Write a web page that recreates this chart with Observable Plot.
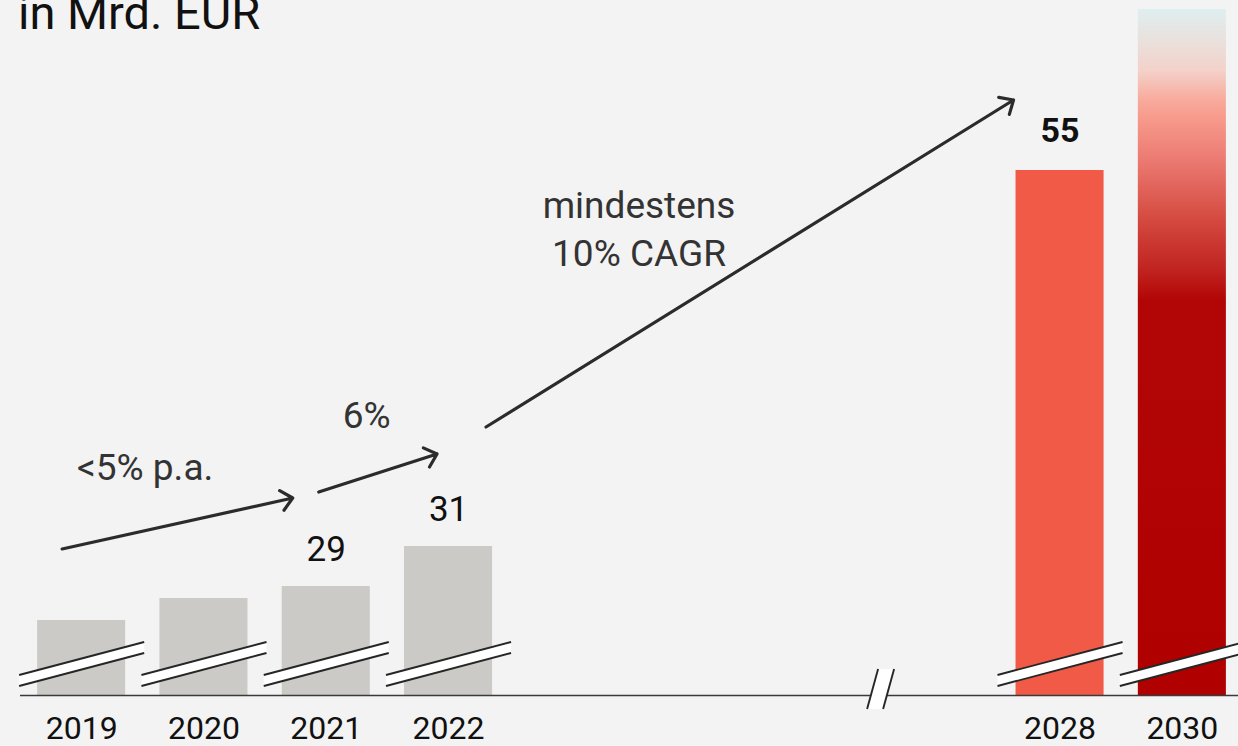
<!DOCTYPE html>
<html><head><meta charset="utf-8">
<script src="https://cdn.jsdelivr.net/npm/d3@7"></script>
<script src="https://cdn.jsdelivr.net/npm/@observablehq/plot@0.6"></script>
<style>
html,body{margin:0;padding:0;background:#f3f3f3;overflow:hidden;}
#wrap{position:relative;width:1238px;height:746px;}
#title{position:absolute;left:18px;top:-11px;font:47px/47px Roboto, sans-serif;color:#111;white-space:nowrap;z-index:1}
#wrap svg{position:absolute;left:0;top:0;}
</style></head><body><div id="wrap"><div id="title">in Mrd. EUR</div></div>
<script>
// ---- data ----
const years = ["2019","2020","2021","2022","2028","2030"];
const values = [27.3, 28.4, 29, 31, 55, 65];
const valueLabels = ["", "", "29", "31", "55", ""];
const gapSlots = ["gap1","gap2","gap3","gap4"];
const slots = ["2019","2020","2021","2022", ...gapSlots, "2028","2030"];
const axisFloor = 23.55; // value at the broken baseline
const growthFrom = ["2019","2021","2022"];
const growthTo   = ["2021","2022","2028"];
const growthText = [["<5% p.a."],["6%"],["mindestens","10% CAGR"]];

const data = years.map((year, i) => ({year, value: values[i], label: valueLabels[i]}));

const FONT = "Roboto, sans-serif";

// broken value axis: piecewise mapping of values to display height
const brokenAxis = d3.scaleLinear().domain([axisFloor, 31, 55, 65]).range([0, 149, 525, 686]);
const yTransform = v => brokenAxis(v);

// gradient defs for the 2030 bar
const gradientDefs = () => {
  const defs = d3.create("svg:defs");
  const lg = defs.append("linearGradient").attr("id","g2030")
    .attr("x1",0).attr("y1",0).attr("x2",0).attr("y2",1);
  [[0,"#dfeeef"],[0.045,"#e9e1dd"],[0.089,"#f3d2ca"],[0.133,"#f8aa9c"],[0.155,"#f89c8e"],
   [0.22,"#eb7a72"],[0.308,"#d4493f"],[0.38,"#c02420"],[0.424,"#b20606"],[1,"#b00000"]]
   .forEach(([o,c]) => lg.append("stop").attr("offset",o).attr("stop-color",c));
  return defs.node();
};

// broken-axis marks, growth arrows and their labels
function annotations(index, scales) {
  const X = scales.x, Yraw = scales.y;
  const Y = v => Yraw(yTransform(v));
  const bw = typeof X.bandwidth === "function" ? X.bandwidth() : scales.scales.x.bandwidth;
  const step = typeof X.step === "function" ? X.step() : scales.scales.x.step;
  const g = d3.create("svg:g");
  const base = Y(axisFloor);
  const bar = yr => { const i = years.indexOf(yr); return {l: X(yr), r: X(yr) + bw, t: Y(values[i])}; };
  // slanted break bands on each bar
  for (const yr of years) {
    const b = bar(yr);
    const x0 = b.l - 18, x1 = b.r + 19, cx = (x0 + x1) / 2, cy = base - 31, s = -0.264;
    const yAt = (x, off) => cy + (x - cx) * s + off;
    g.append("path")
      .attr("d", `M${x0},${yAt(x0,-5.5)}L${x1},${yAt(x1,-5.5)}L${x1},${yAt(x1,5.5)}L${x0},${yAt(x0,5.5)}Z`)
      .attr("fill", "#fff");
    for (const off of [-5.5, 5.5]) {
      g.append("line").attr("x1", x0).attr("y1", yAt(x0, off)).attr("x2", x1).attr("y2", yAt(x1, off))
        .attr("stroke", "#262626").attr("stroke-width", 1.9);
    }
  }
  // axis break between the historical and target years
  {
    const cx = X("gap4") - (step - bw) / 2 + 4.5;
    g.append("path")
      .attr("d", `M${cx-13.5},${base+14}L${cx-2.5},${base-26}L${cx+13.5},${base-26}L${cx+2.5},${base+14}Z`)
      .attr("fill", "#fff");
    for (const d of [0, 16]) {
      g.append("line").attr("x1", cx - 13.5 + d).attr("y1", base + 14).attr("x2", cx - 2.5 + d).attr("y2", base - 26)
        .attr("stroke", "#262626").attr("stroke-width", 1.9);
    }
  }
  // growth arrows
  const geom = [
    {s: [25, -71], e: [11, -88], lab: [83, -69]},
    {s: [37, -94], e: [33, -92], lab: [48, -64]},
    {s: [82, -119], e: [-2, -70], lab: [153, -209]}
  ];
  growthFrom.forEach((from, k) => {
    const a = bar(from), b = bar(growthTo[k]), G = geom[k];
    const x1 = a.l + G.s[0], y1 = a.t + G.s[1], x2 = b.l + G.e[0], y2 = b.t + G.e[1];
    const ang = Math.atan2(y2 - y1, x2 - x1), L = 15, h = 42 * Math.PI / 180;
    const p1 = [x2 - L * Math.cos(ang - h), y2 - L * Math.sin(ang - h)];
    const p2 = [x2 - L * Math.cos(ang + h), y2 - L * Math.sin(ang + h)];
    g.append("path")
      .attr("d", `M${x1},${y1}L${x2},${y2}M${p1[0]},${p1[1]}L${x2},${y2}L${p2[0]},${p2[1]}`)
      .attr("fill", "none").attr("stroke", "#2b2b2b").attr("stroke-width", 3.2)
      .attr("stroke-linecap", "round").attr("stroke-linejoin", "round");
    const tx = x1 + G.lab[0], ty = y1 + G.lab[1];
    growthText[k].forEach((line, j) => {
      g.append("text").attr("x", tx).attr("y", ty + j * 48).attr("text-anchor", "middle")
        .attr("font-family", FONT).attr("font-size", 37).attr("fill", "#333").text(line);
    });
  });
  return g.node();
}

const plot = Plot.plot({
  width: 1238,
  height: 746,
  marginLeft: 20,
  marginRight: 0,
  marginTop: 0,
  marginBottom: 51,
  style: {background: "transparent", fontFamily: FONT, overflow: "visible"},
  x: {type: "band", domain: slots, range: [20, 1243], paddingInner: 0.28, paddingOuter: 0.14, round: false, label: null},
  y: {type: "linear", transform: yTransform, domain: [0, 686], range: [695, 9], axis: null},
  marks: [
    gradientDefs,
    Plot.barY(data.filter(d => +d.year <= 2022), {x: "year", y1: () => axisFloor, y2: "value", fill: "#cccac7"}),
    Plot.barY(data.filter(d => d.year === "2028"), {x: "year", y1: () => axisFloor, y2: "value", fill: "#f25a48"}),
    Plot.barY(data.filter(d => d.year === "2030"), {x: "year", y1: () => axisFloor, y2: "value", fill: "url(#g2030)"}),
    Plot.ruleY([axisFloor], {stroke: "#3a3a3a", strokeWidth: 1.6}),
    annotations,
    Plot.text(data.filter(d => d.label && d.year !== "2028"), {x: "year", y: "value", text: "label", dy: -37, fontSize: 35, fill: "#111"}),
    Plot.text(data.filter(d => d.year === "2028"), {x: "year", y: "value", text: "label", dy: -39, fontSize: 34, fontWeight: 700, fill: "#111"}),
    Plot.axisX({ticks: years, tickSize: 0, tickPadding: 21, fontSize: 32, fill: "#111", label: null})
  ]
});
document.getElementById("wrap").appendChild(plot);
</script>
</body></html>
